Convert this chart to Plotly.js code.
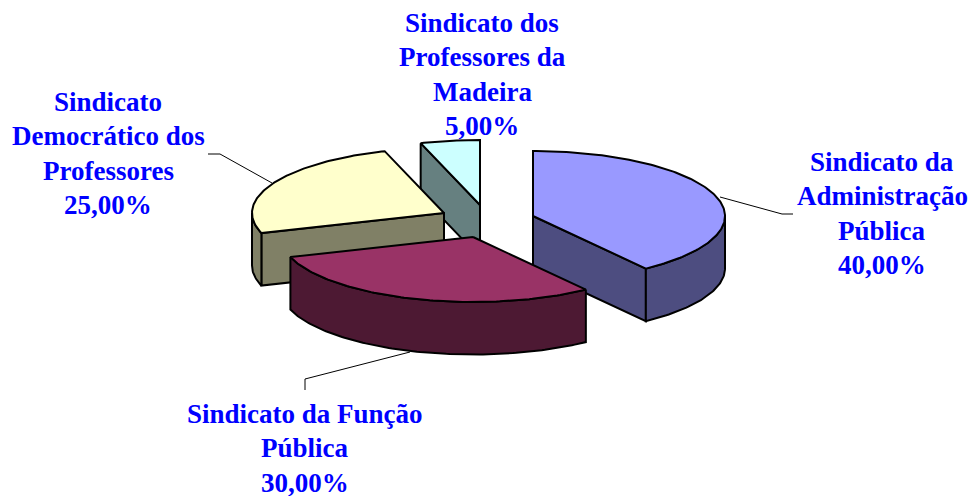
<!DOCTYPE html>
<html><head><meta charset="utf-8">
<script src="https://cdn.plot.ly/plotly-3.0.1.min.js"></script>
<style>html,body{margin:0;padding:0;background:#fff}#c{width:971px;height:496px}</style></head>
<body><div id="c"></div>
<script>
const categories = [["Sindicato da","Administração","Pública"],["Sindicato da Função","Pública"],["Sindicato","Democrático dos","Professores"],["Sindicato dos","Professores da","Madeira"]];
const values = [40,30,25,5];
const valueLabels = ["40,00%","30,00%","25,00%","5,00%"];
const topColors = ["#9999FF","#993366","#FFFFCC","#CCFFFF"];
const sideColors = ["#4D4D80","#4D1933","#808066","#668080"];
const apexX = [533,473,444,480];
const apexY = [216,237,213,205];
const labelX = [882,305,108,482];
const labelY = [162,414,102,23];
const leaderX = [[720,782,793],[410,305,305],[272,220,208]];
const leaderY = [[197,214,214],[352,379,390],[183,154,154]];
const RX=192, RY=65, DEPTH=52.5, LINE="#000", LINE_STEP=34.4;

const total = values.reduce((a,b)=>a+b,0);
const rad = d=>d*Math.PI/180;
const px=(i,a)=>apexX[i]+RX*Math.sin(rad(a));
const py=(i,a)=>apexY[i]-RY*Math.cos(rad(a));
function arc(i,a,b,dy){const xs=[],ys=[];const n=Math.max(2,Math.ceil(Math.abs(b-a)));
  for(let k=0;k<=n;k++){const t=a+(b-a)*k/n;xs.push(px(i,t));ys.push(py(i,t)+dy);}return [xs,ys];}
function poly(xs,ys,fill,name){return {type:'scatter',mode:'lines',x:xs,y:ys,fill:'toself',fillcolor:fill,
  line:{color:LINE,width:2},hoverinfo:'skip',showlegend:false,name:name};}

let start=0; const parts=values.map((v,i)=>{const a=start,b=start+v/total*360;start=b;return {i,a,b};});
const traces=[];
[3,2,0,1].forEach(idx=>{
  const {i,a,b}=parts[idx];
  const ax=apexX[i], ay=apexY[i];
  if(Math.sin(rad(a))<-1e-6) traces.push(poly([px(i,a),ax,ax,px(i,a),px(i,a)],[py(i,a),ay,ay+DEPTH,py(i,a)+DEPTH,py(i,a)],sideColors[i]));
  if(Math.sin(rad(b))>1e-6) traces.push(poly([px(i,b),ax,ax,px(i,b),px(i,b)],[py(i,b),ay,ay+DEPTH,py(i,b)+DEPTH,py(i,b)],sideColors[i]));
  const wa=Math.max(a,90), wb=Math.min(b,270);
  if(wb>wa){const [tx,ty]=arc(i,wa,wb,0);const [bx,by]=arc(i,wb,wa,DEPTH);
    traces.push(poly(tx.concat(bx,[tx[0]]),ty.concat(by,[ty[0]]),sideColors[i]));}
  const [tx,ty]=arc(i,a,b,0);
  traces.push(poly([ax].concat(tx,[ax]),[ay].concat(ty,[ay]),topColors[i],categories[i].join(' ')));
});
leaderX.forEach((lx,k)=>traces.push({type:'scatter',mode:'lines',x:lx,y:leaderY[k],line:{color:LINE,width:1},hoverinfo:'skip',showlegend:false}));

const annotations=[];
categories.forEach((c,i)=>c.concat([valueLabels[i]]).forEach((t,k)=>annotations.push({
  xref:'x',yref:'y',x:labelX[i],y:labelY[i]+k*LINE_STEP,text:'<b>'+t+'</b>',
  showarrow:false,xanchor:'center',yanchor:'middle',align:'center',
  font:{family:'"Liberation Serif",serif',size:27,color:'#0000FF'}})));

Plotly.newPlot('c',traces,{width:971,height:496,margin:{l:0,r:0,t:0,b:0},showlegend:false,
  paper_bgcolor:'#fff',plot_bgcolor:'#fff',
  xaxis:{range:[0,971],visible:false,fixedrange:true},
  yaxis:{range:[496,0],visible:false,fixedrange:true},
  annotations},{displayModeBar:false,staticPlot:true});
</script></body></html>
